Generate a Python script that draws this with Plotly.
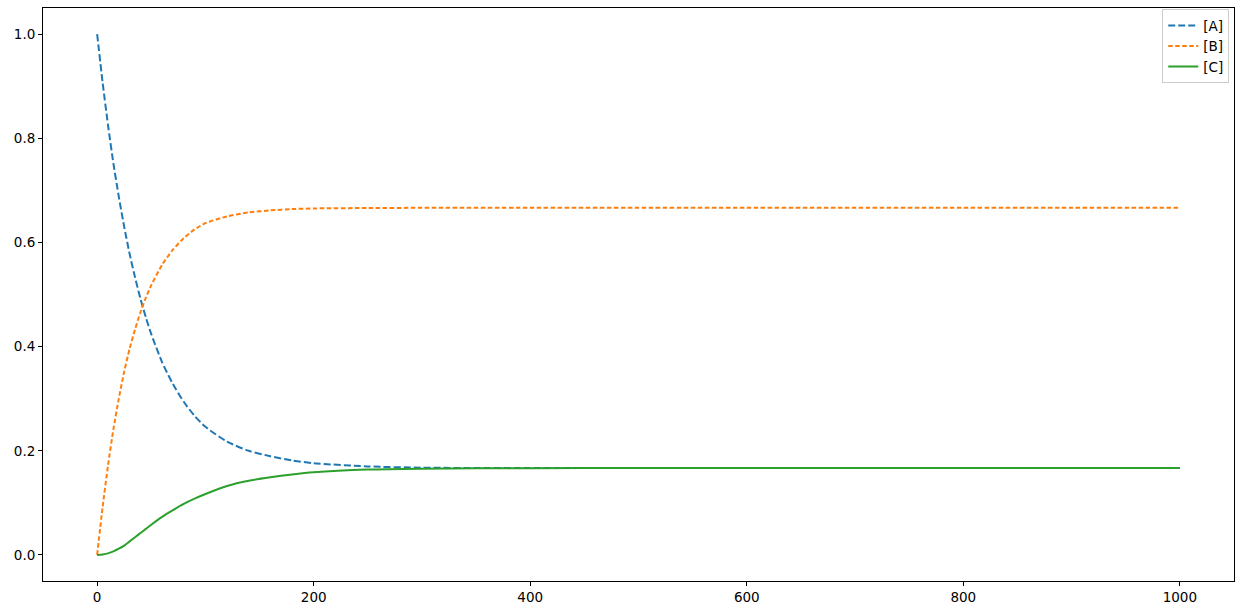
import plotly.graph_objects as go

# time points
t = [0, 5, 10, 15, 20, 25, 30, 35, 40, 45, 50, 60, 70, 80, 90, 100, 120, 140,
     160, 180, 200, 250, 300, 400, 500, 600, 700, 800, 900, 1000]

conc_A = [1.0, 0.908, 0.826, 0.752, 0.688, 0.630, 0.578, 0.533, 0.492, 0.456,
          0.424, 0.370, 0.328, 0.294, 0.267, 0.246, 0.2175, 0.200, 0.1895, 0.1815,
          0.176, 0.170, 0.1675, 0.1668, 0.1667, 0.1667, 0.1667, 0.1667, 0.1667, 0.1667]

conc_B = [0.0, 0.091, 0.171, 0.241, 0.300, 0.352, 0.396, 0.433, 0.466, 0.494,
          0.518, 0.557, 0.586, 0.608, 0.625, 0.637, 0.650, 0.6575, 0.6615, 0.664,
          0.6652, 0.666, 0.6664, 0.6666, 0.6667, 0.6667, 0.6667, 0.6667, 0.6667, 0.6667]

conc_C = [0.0, 0.001, 0.003, 0.007, 0.012, 0.018, 0.026, 0.034, 0.042, 0.050,
          0.058, 0.073, 0.086, 0.098, 0.108, 0.117, 0.1325, 0.1425, 0.149, 0.1545,
          0.1588, 0.164, 0.1656, 0.1666, 0.1667, 0.1667, 0.1667, 0.1667, 0.1667, 0.1667]

names = ["[A]", "[B]", "[C]"]
colors = ["#1f77b4", "#ff7f0e", "#2ca02c"]
dashes = ["7px,3px", "4.5px,2.5px", "solid"]

fig = go.Figure()
for name, y, c, d in zip(names, [conc_A, conc_B, conc_C], colors, dashes):
    fig.add_trace(go.Scatter(x=t, y=y, mode="lines", name=name,
                             line=dict(color=c, width=2, dash=d, shape="spline", smoothing=0.6)))

font = dict(family="DejaVu Sans", size=13.5, color="black")
axis_common = dict(showline=True, mirror=True, linecolor="black", linewidth=1,
                   ticks="outside", ticklen=4, tickwidth=1, tickcolor="black",
                   showgrid=False, zeroline=False, tickfont=font, automargin=False)

fig.update_layout(
    width=1241, height=605,
    margin=dict(l=43, r=7, t=8, b=24),
    paper_bgcolor="white", plot_bgcolor="white",
    font=font,
    xaxis=dict(range=[-50, 1050], tickvals=[0, 200, 400, 600, 800, 1000], **axis_common),
    yaxis=dict(range=[-0.05, 1.05], tickvals=[0, 0.2, 0.4, 0.6, 0.8, 1.0],
               tickformat=".1f", **axis_common),
    legend=dict(x=0.996, y=0.998, xanchor="right", yanchor="top",
                bgcolor="white", bordercolor="#cccccc", borderwidth=1,
                font=font, tracegroupgap=0),
    showlegend=True,
)

fig.write_html("out.html", config={"displayModeBar": False},
               post_script="document.body.style.margin='0';document.body.style.overflow='hidden';")
